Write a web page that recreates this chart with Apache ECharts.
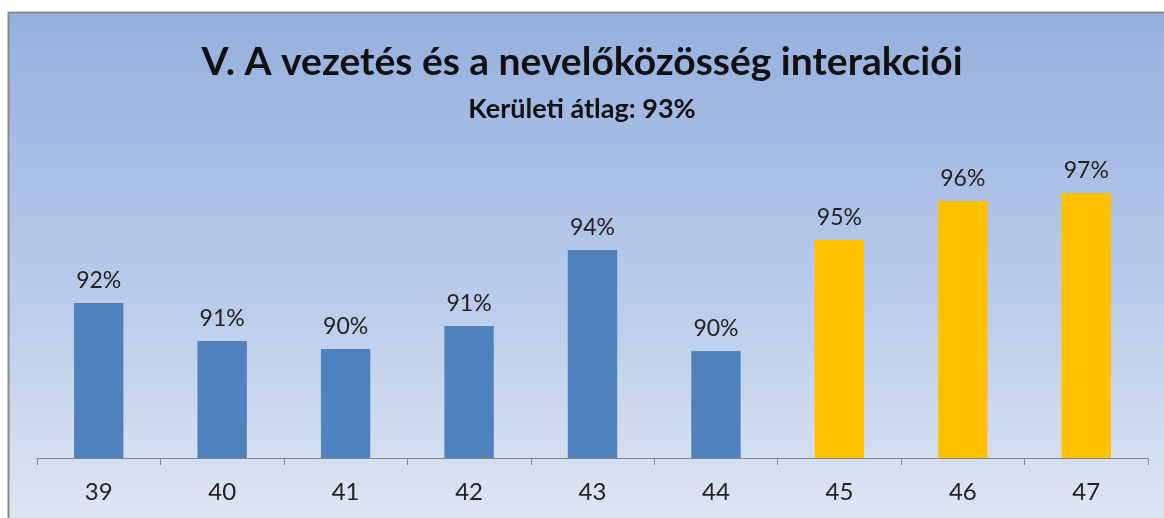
<!DOCTYPE html>
<html>
<head>
<meta charset="utf-8">
<script src="https://cdn.jsdelivr.net/npm/echarts@6/dist/echarts.min.js"></script>
<style>
html,body{margin:0;padding:0;background:#fff;}
#c{width:1164px;height:518px;}
</style>
</head>
<body>
<div id="c"></div>
<script>
const titleText = 'V. A vezetés és a nevelőközösség interakciói';
const subtitleText = 'Kerületi átlag: 93%';
const categories = ['39','40','41','42','43','44','45','46','47'];
const values = [92.24, 90.71, 90.39, 91.32, 94.38, 90.31, 94.78, 96.35, 96.67];
const highlighted = ['45','46','47'];

const chart = echarts.init(document.getElementById('c'));
const FONT = 'Lato, "Open Sans", sans-serif';
chart.setOption({
  animation: false,
  graphic: [{
    type: 'rect', z: -10, silent: true,
    shape: {x: 8.5, y: 12.5, width: 1200, height: 560},
    style: {
      fill: new echarts.graphic.LinearGradient(0, 0, 0, 1, [
        {offset: 0, color: '#95AFDE'},
        {offset: 0.5, color: '#B9CBEA'},
        {offset: 0.92, color: '#DEE6F3'},
        {offset: 1, color: '#E2E9F4'}
      ]),
      stroke: '#8A8A8A', lineWidth: 2
    }
  }],
  title: [{
    text: titleText, left: 'center', top: 38,
    textStyle: {fontFamily: FONT, fontWeight: 'bold', fontSize: 39, color: '#111'}
  }, {
    text: subtitleText, left: 'center', top: 91,
    textStyle: {fontFamily: FONT, fontWeight: 'bold', fontSize: 27, color: '#111'}
  }],
  grid: {left: 37, right: 16, top: 160, bottom: 60},
  xAxis: {
    type: 'category', data: categories,
    axisLine: {lineStyle: {color: '#868686', width: 1}},
    axisTick: {show: true, interval: 0, length: 7, lineStyle: {color: '#868686'}},
    axisLabel: {fontFamily: FONT, fontSize: 24, color: '#222', margin: 22}
  },
  yAxis: {
    type: 'value', min: 86, max: 98, show: false,
    splitLine: {show: false}
  },
  series: [{
    type: 'bar', data: values, barWidth: '40%',
    itemStyle: {
      color: p => highlighted.includes(categories[p.dataIndex]) ? '#FFC000' : '#4F81BD'
    },
    label: {
      show: true, position: 'top', distance: 11,
      fontFamily: FONT, fontSize: 23, color: '#222',
      formatter: p => Math.round(p.value) + '%'
    }
  }]
});
</script>
</body>
</html>
